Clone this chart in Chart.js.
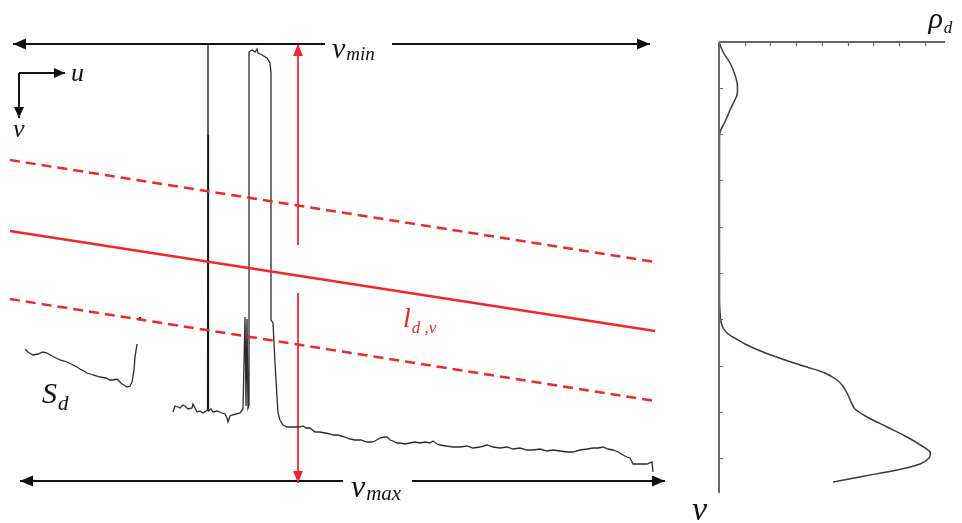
<!DOCTYPE html>
<html>
<head>
<meta charset="utf-8">
<script src="https://cdn.jsdelivr.net/npm/chart.js@4.4.1/dist/chart.umd.min.js"></script>
<style>
  html, body { margin: 0; padding: 0; background: #fff; }
  #wrap { position: relative; width: 962px; height: 523px; }
</style>
</head>
<body>
<div id="wrap"><canvas id="fig" width="962" height="523"></canvas></div>
<script>
// image coordinates (u across, v down)
const topLeftArrow = [[325, 44], [13, 44]];
const topRightArrow = [[392, 44], [650, 44]];
const bottomLeftArrow = [[343, 481], [20, 481]];
const bottomRightArrow = [[412, 481], [665, 481]];
const redUpArrow = [[298, 245], [298, 44]];
const redDownArrow = [[298, 293], [298, 483]];
const uArrow = [[19, 73], [65, 73]];
const vArrow = [[19, 73], [19, 118]];

const ldvLine = [[10, 231], [655, 331]];
const upperBand = [[10, 160], [655, 262]];
const lowerBand = [[10, 299], [655, 401]];

const markerLine = [[208, 44], [208, 410]];
const speck = [[140, 318]];

// S_d profile (left fragment)
const sdTrace = [
  [25, 349], [28, 352], [31, 354], [33, 355], [38, 354], [43, 352], [47, 353], [52, 356],
  [56, 358], [60, 360], [64, 361], [67, 362], [73, 365], [77, 367], [80, 369], [84, 371],
  [87, 373], [93, 375], [97, 376], [100, 377], [106, 378], [110, 380], [113, 380], [117, 379],
  [120, 382], [122, 384], [124, 385], [127, 387], [130, 386], [132, 382], [134, 370],
  [135, 357], [137, 344]
];

// road profile (main trace)
const mainTrace = [
  [173, 412], [175, 406], [178, 407], [180, 408], [183, 405], [185, 406], [188, 409],
  [192, 408], [193, 404], [195, 408], [197, 412], [200, 411], [203, 413], [206, 411],
  [207.5, 410], [208, 135], [208.5, 411], [211, 409], [213, 412], [217, 411], [222, 413],
  [225, 414], [227, 418], [228, 422], [230, 416], [232, 415], [236, 414], [240, 413],
  [243, 409], [245, 317], [246, 406], [247, 319], [248, 408], [249, 405], [249, 52],
  [252, 50], [255, 52], [257, 49], [258, 53], [262, 55], [267, 58], [270, 63], [271, 73],
  [271, 320], [273, 323], [275, 363], [277, 397], [278, 413], [280, 420], [283, 425],
  [287, 427], [295, 427], [300, 427], [303, 426], [306, 428], [310, 428], [315, 432],
  [320, 432], [325, 433], [330, 434], [333, 435], [338, 435], [345, 437], [350, 439],
  [355, 440], [361, 440], [367, 442], [372, 442], [375, 441], [380, 438], [384, 437],
  [387, 437], [390, 440], [393, 441], [397, 443], [400, 443], [405, 444], [410, 443],
  [415, 442], [420, 443], [425, 442], [430, 443], [433, 441], [437, 444], [440, 445],
  [446, 446], [453, 447], [460, 447], [467, 446], [473, 448], [480, 447], [487, 445],
  [493, 447], [500, 448], [507, 447], [513, 449], [520, 448], [527, 450], [533, 450],
  [540, 449], [547, 451], [553, 450], [560, 451], [567, 452], [573, 452], [580, 450],
  [587, 449], [593, 448], [598, 448], [603, 447], [608, 449], [613, 450], [618, 452],
  [623, 455], [627, 457], [630, 458], [632, 462], [633, 464], [640, 464], [647, 464],
  [652, 462], [653, 472]
];

// right panel: density rho_d against v
const rhoTicks = [1, 2, 3, 4, 5, 6, 7, 8];
const vTicks = [88, 134, 180, 227, 273, 319, 366, 412, 458];
const rhoAxisTop = [[0, 42], [8.8, 42]];
const rhoAxisLeft = [[0, 42], [0, 493]];
const rhoProfile = [
  [0.0, 42], [0.04, 45], [0.2, 54], [0.43, 63], [0.58, 72], [0.7, 82], [0.72, 89],
  [0.7, 95], [0.58, 102], [0.43, 110], [0.23, 122], [0.04, 132], [0.02, 140],
  [0.02, 300], [0.04, 313], [0.08, 322], [0.16, 328], [0.31, 333], [0.54, 337],
  [1.01, 344], [1.71, 352], [2.57, 360], [3.42, 367], [4.12, 373], [4.59, 380],
  [4.82, 386], [4.98, 393], [5.14, 402], [5.29, 409], [5.76, 417], [6.54, 427],
  [7.32, 437], [7.9, 446], [8.21, 452], [8.17, 458], [7.82, 464], [6.93, 470],
  [5.68, 476], [4.44, 482]
];

const pts = (arr) => arr.map(([x, y]) => ({ x, y }));

function line(data, color, width, extra = {}) {
  return Object.assign({
    data: pts(data),
    showLine: true,
    borderColor: color,
    backgroundColor: color,
    borderWidth: width,
    pointRadius: 0,
    pointHoverRadius: 0,
    tension: 0,
    fill: false,
    clip: false,
  }, extra);
}

// arrow heads on the last segment of flagged datasets
const arrowHeads = {
  id: "arrowHeads",
  afterDatasetsDraw(chart) {
    const ctx = chart.ctx;
    chart.data.datasets.forEach((ds, i) => {
      if (!ds.arrow) return;
      const el = chart.getDatasetMeta(i).data;
      const a = el[el.length - 2], b = el[el.length - 1];
      const ang = Math.atan2(b.y - a.y, b.x - a.x);
      const len = ds.arrowLen || 13, half = ds.arrowHalf || 5.5;
      ctx.save();
      ctx.translate(b.x, b.y);
      ctx.rotate(ang);
      ctx.beginPath();
      ctx.moveTo(0, 0);
      ctx.lineTo(-len, -half);
      ctx.lineTo(-len, half);
      ctx.closePath();
      ctx.fillStyle = ds.borderColor;
      ctx.fill();
      ctx.restore();
    });
  },
};

// small inward ticks of the rho_d / v axes
const panelTicks = {
  id: "panelTicks",
  afterDatasetsDraw(chart) {
    const ctx = chart.ctx;
    const xs = chart.scales.rho, ys = chart.scales.y;
    const x0 = xs.getPixelForValue(0), y0 = ys.getPixelForValue(42);
    ctx.save();
    ctx.strokeStyle = "#666";
    ctx.lineWidth = 1.2;
    ctx.beginPath();
    for (const t of rhoTicks) {
      const px = Math.round(xs.getPixelForValue(t)) + 0.5;
      ctx.moveTo(px, y0);
      ctx.lineTo(px, y0 + 4);
    }
    for (const t of vTicks) {
      const py = Math.round(ys.getPixelForValue(t)) + 0.5;
      ctx.moveTo(x0, py);
      ctx.lineTo(x0 + 4, py);
    }
    ctx.stroke();
    ctx.restore();
  },
};

// italic serif labels with subscripts
const annotations = [
  { axis: "x", at: [332, 58], text: "v", sub: "min", size: 30, subSize: 19, subDy: 2, color: "#111" },
  { axis: "x", at: [351, 497], text: "v", sub: "max", size: 32, subSize: 21, subDy: 3, color: "#111" },
  { axis: "x", at: [71, 81], text: "u", size: 26, color: "#111" },
  { axis: "x", at: [13, 137], text: "v", size: 26, color: "#111" },
  { axis: "x", at: [42, 403], text: "S", sub: "d", size: 30, subSize: 21, subDy: 7, color: "#111" },
  { axis: "x", at: [403, 327], text: "l", sub: "d ,v", size: 28, subSize: 17, subDy: 6, color: "#e8262b" },
  { axis: "rho", at: [8.15, 28], text: "\u03c1", sub: "d", size: 30, subSize: 17, subDy: 5, color: "#111" },
  { axis: "rho", at: [-1.05, 520], text: "v", size: 34, color: "#111" },
];

const labelPlugin = {
  id: "labelPlugin",
  afterDatasetsDraw(chart) {
    const ctx = chart.ctx;
    ctx.save();
    ctx.textBaseline = "alphabetic";
    for (const a of annotations) {
      const px = chart.scales[a.axis].getPixelForValue(a.at[0]);
      const py = chart.scales.y.getPixelForValue(a.at[1]);
      ctx.fillStyle = a.color;
      ctx.font = `italic ${a.size}px "Liberation Serif", "DejaVu Serif", serif`;
      ctx.fillText(a.text, px, py);
      if (a.sub) {
        const w = ctx.measureText(a.text).width;
        ctx.font = `italic ${a.subSize}px "Liberation Serif", "DejaVu Serif", serif`;
        ctx.fillText(a.sub, px + w + 1, py + a.subDy);
      }
    }
    ctx.restore();
  },
};

const RED = "#f0282d";
const BLACK = "#111";
const TRACE = "#2b2b2b";

new Chart(document.getElementById("fig"), {
  type: "scatter",
  data: {
    datasets: [
      line(upperBand, RED, 2.4, { borderDash: [10, 6] }),
      line(lowerBand, RED, 2.4, { borderDash: [10, 6] }),
      line(ldvLine, RED, 2.4),
      line(markerLine, BLACK, 1.3),
      line(sdTrace, TRACE, 1.3),
      line(mainTrace, TRACE, 1.3),
      line(topLeftArrow, BLACK, 2, { arrow: true }),
      line(topRightArrow, BLACK, 2, { arrow: true }),
      line(bottomLeftArrow, BLACK, 2, { arrow: true }),
      line(bottomRightArrow, BLACK, 2, { arrow: true }),
      line(redUpArrow, RED, 1.8, { arrow: true, arrowLen: 12, arrowHalf: 5 }),
      line(redDownArrow, RED, 1.8, { arrow: true, arrowLen: 12, arrowHalf: 5 }),
      line(uArrow, BLACK, 2, { arrow: true, arrowLen: 11, arrowHalf: 5 }),
      line(vArrow, BLACK, 2, { arrow: true, arrowLen: 11, arrowHalf: 5 }),
      { data: pts(speck), pointRadius: 1.3, pointHoverRadius: 0, backgroundColor: BLACK, borderWidth: 0, clip: false },
      line(rhoAxisTop, "#666", 2, { xAxisID: "rho" }),
      line(rhoAxisLeft, "#666", 2, { xAxisID: "rho" }),
      line(rhoProfile, "#3a3a3a", 1.5, { xAxisID: "rho", tension: 0.3 }),
    ],
  },
  options: {
    responsive: false,
    animation: false,
    events: [],
    layout: { padding: 0, autoPadding: false },
    plugins: {
      legend: { display: false },
      tooltip: { enabled: false },
    },
    scales: {
      x: { type: "linear", display: false, min: 0, max: 962 },
      rho: { type: "linear", axis: "x", display: false, min: -27.977, max: 9.455 },
      y: { type: "linear", display: false, min: 0, max: 523, reverse: true },
    },
  },
  plugins: [arrowHeads, panelTicks, labelPlugin],
});
</script>
</body>
</html>
